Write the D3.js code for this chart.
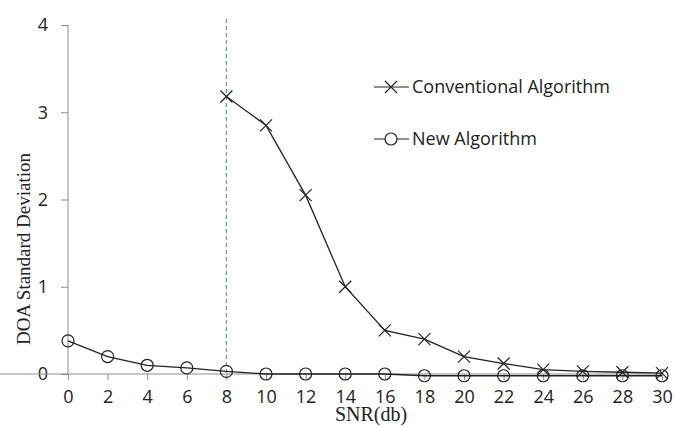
<!DOCTYPE html>
<html><head><meta charset="utf-8">
<script src="https://cdn.jsdelivr.net/npm/d3@7"></script>
<style>body{margin:0;background:#fff;}</style>
</head><body>
<svg id="c" width="677" height="428"></svg>
<script>
const xTicks = [0,2,4,6,8,10,12,14,16,18,20,22,24,26,28,30];
const yTicks = [0,1,2,3,4];
const convX = [8,10,12,14,16,18,20,22,24,26,28,30];
const convY = [3.18,2.85,2.05,1.0,0.5,0.4,0.2,0.12,0.05,0.03,0.02,0.01];
const newX = [0,2,4,6,8,10,12,14,16,18,20,22,24,26,28,30];
const newY = [0.38,0.2,0.1,0.07,0.03,0.0,0.0,0.0,0.0,-0.02,-0.02,-0.02,-0.02,-0.02,-0.02,-0.02];
const seriesNames = ["Conventional Algorithm","New Algorithm"];
const markerLine = 8;

const svg = d3.select("#c");
const x = d3.scaleLinear().domain([0,30]).range([68,662]);
const y = d3.scaleLinear().domain([0,4]).range([374,25]);
const sans = "'Open Sans', Lato, sans-serif";
const serif = "'Liberation Serif', 'DejaVu Serif', serif";

// axes
const ya = svg.append("g").attr("transform","translate(68,0)")
  .call(d3.axisLeft(y).tickValues(yTicks).tickFormat(d3.format("d")).tickSize(7).tickSizeOuter(0));
const xa = svg.append("g").attr("transform","translate(0,374)")
  .call(d3.axisBottom(x).tickValues(xTicks).tickFormat(d3.format("d")).tickSize(6).tickSizeOuter(0));
[ya,xa].forEach(a=>{
  a.selectAll("path,line").attr("stroke","#8c8c8c");
  a.selectAll("text").attr("fill","#222").attr("font-family",sans).attr("font-size",18);
});
ya.select("path").attr("d","M0,374V25");
xa.select("path").attr("d","M-8,0H662");
ya.selectAll("text").attr("x",-20);
xa.selectAll("text").attr("y",16);

// dashed line
svg.append("line").attr("x1",x(markerLine)).attr("x2",x(markerLine))
  .attr("y1",y(4.07)).attr("y2",y(0)).attr("stroke","#5b9bd5").attr("stroke-width",1.2).attr("stroke-dasharray","4,3");

const line = d3.line().x(d=>x(d[0])).y(d=>y(d[1]));
const conv = convX.map((v,i)=>[v,convY[i]]);
const nw = newX.map((v,i)=>[v,newY[i]]);

svg.append("path").datum(nw).attr("d",line).attr("fill","none").attr("stroke","#222").attr("stroke-width",1.3);
svg.append("path").datum(conv).attr("d",line).attr("fill","none").attr("stroke","#222").attr("stroke-width",1.3);

function cross(g,cx,cy,s){
  g.append("path").attr("d",`M${cx-s},${cy-s}L${cx+s},${cy+s}M${cx-s},${cy+s}L${cx+s},${cy-s}`)
    .attr("stroke","#222").attr("stroke-width",1.2).attr("fill","none");
}
const gm = svg.append("g");
nw.forEach(d=>{
  gm.append("circle").attr("cx",x(d[0])).attr("cy",y(d[1])).attr("r",6)
    .attr("fill","none").attr("stroke","#222").attr("stroke-width",1.2);
});
conv.forEach(d=>cross(gm,x(d[0]),y(d[1]),6));

// legend
const lg = svg.append("g");
lg.append("line").attr("x1",374).attr("x2",409).attr("y1",87).attr("y2",87).attr("stroke","#222").attr("stroke-width",1.2);
cross(lg,391,87,6);
lg.append("text").attr("x",412).attr("y",93).text(seriesNames[0]);
lg.append("line").attr("x1",374).attr("x2",409).attr("y1",139).attr("y2",139).attr("stroke","#222").attr("stroke-width",1.2);
lg.append("circle").attr("cx",391).attr("cy",139).attr("r",6).attr("fill","#fff").attr("stroke","#222").attr("stroke-width",1.2);
lg.append("text").attr("x",412).attr("y",145).text(seriesNames[1]);
lg.selectAll("text").attr("font-family",sans).attr("font-size",18).attr("fill","#222");

// axis titles
svg.append("text").attr("transform","translate(30,249) rotate(-90)").attr("text-anchor","middle")
  .attr("font-family",serif).attr("font-size",19).attr("fill","#222")
  .text("DOA Standard Deviation");
svg.append("text").attr("x",371).attr("y",421).attr("text-anchor","middle")
  .attr("font-family",serif).attr("font-size",20).attr("fill","#222")
  .text("SNR(db)");
</script>
</body></html>
